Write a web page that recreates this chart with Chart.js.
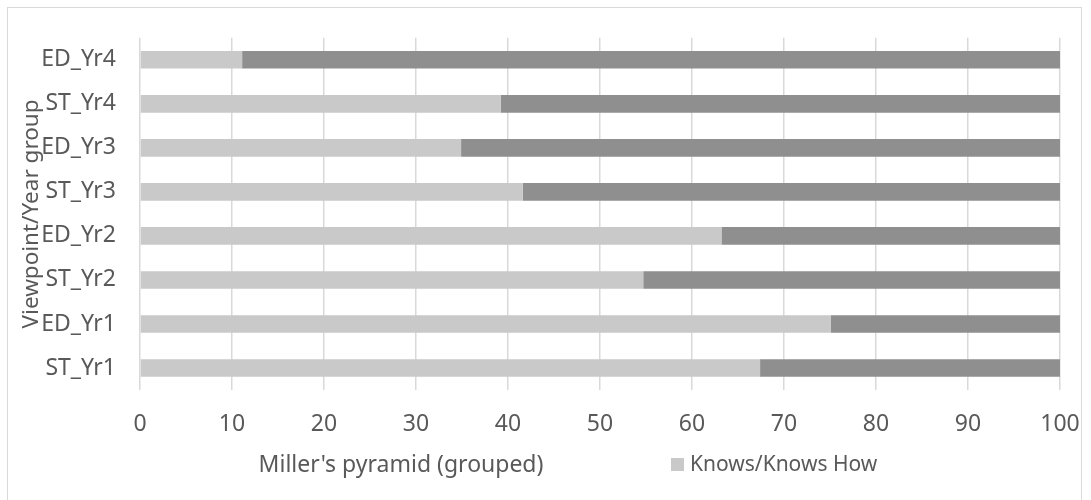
<!DOCTYPE html>
<html>
<head>
<meta charset="utf-8">
<script src="https://cdn.jsdelivr.net/npm/chart.js@4"></script>
<style>
  html, body { margin: 0; padding: 0; background: #ffffff; }
  #wrap { position: relative; width: 1091px; height: 500px; }
  #frame { position: absolute; left: 7px; top: 7px; width: 1075px; height: 500px; border: 1px solid #d9d9d9; box-sizing: border-box; pointer-events: none; }
</style>
</head>
<body>
<div id="wrap">
  <canvas id="c" width="1091" height="500"></canvas>
  <div id="frame"></div>
</div>
<script>
const categories = ["ED_Yr4", "ST_Yr4", "ED_Yr3", "ST_Yr3", "ED_Yr2", "ST_Yr2", "ED_Yr1", "ST_Yr1"];
const knowsValues = [11.1, 39.2, 34.9, 41.6, 63.2, 54.7, 75.1, 67.4];
const showsValues = [88.9, 60.8, 65.1, 58.4, 36.8, 45.3, 24.9, 32.6];
const xTickValues = [0, 10, 20, 30, 40, 50, 60, 70, 80, 90, 100];
const seriesNames = ["Knows/Knows How", "Shows How/Does"];
const xTitle = "Miller's pyramid (grouped)";
const yTitle = "Viewpoint/Year group";

const FONT = "'Noto Sans', 'Open Sans', sans-serif";
const TEXT = "#595959";

const bottomTexts = {
  id: 'bottomTexts',
  afterDraw(chart) {
    const ctx = chart.ctx;
    ctx.save();
    ctx.fillStyle = TEXT;
    ctx.textBaseline = 'middle';
    ctx.font = "23px " + FONT;
    ctx.textAlign = 'center';
    ctx.fillText(xTitle, 401, 465);
    // legend (only first series shown)
    ctx.fillStyle = "#c9c9c9";
    ctx.fillRect(671, 458, 13, 13);
    ctx.fillStyle = TEXT;
    ctx.font = "21px " + FONT;
    ctx.textAlign = 'left';
    ctx.fillText(seriesNames[0], 690, 465);
    ctx.restore();
  }
};

new Chart(document.getElementById('c'), {
  type: 'bar',
  data: {
    labels: categories,
    datasets: [
      { label: seriesNames[0], data: knowsValues, backgroundColor: "#c9c9c9", borderWidth: 0, categoryPercentage: 1.0, barPercentage: 0.4 },
      { label: seriesNames[1], data: showsValues, backgroundColor: "#8f8f8f", borderWidth: 0, categoryPercentage: 1.0, barPercentage: 0.4 }
    ]
  },
  options: {
    indexAxis: 'y',
    responsive: false,
    animation: false,
    layout: { padding: { left: 0, right: 31, top: 32, bottom: 60 } },
    plugins: { legend: { display: false }, tooltip: { enabled: false } },
    scales: {
      x: {
        stacked: true,
        min: 0, max: 100,
        afterBuildTicks(scale) { scale.ticks = xTickValues.map(v => ({ value: v })); },
        afterFit(scale) { scale.height = 50; scale.paddingRight = 0; scale.paddingLeft = 0; },
        grid: { color: "#d9d9d9", lineWidth: 1.5, drawTicks: false },
        border: { display: false },
        ticks: { color: TEXT, font: { family: FONT, size: 23 }, padding: 21, maxRotation: 0 }
      },
      y: {
        stacked: true,
        afterFit(scale) { scale.width = 140; },
        grid: { display: false, drawTicks: false },
        border: { display: false },
        ticks: { color: TEXT, font: { family: FONT, size: 23 }, padding: 24 },
        title: { display: true, text: yTitle, color: TEXT, font: { family: FONT, size: 22.5 }, padding: { top: 18, bottom: 0 } }
      }
    }
  },
  plugins: [bottomTexts]
});
</script>
</body>
</html>
